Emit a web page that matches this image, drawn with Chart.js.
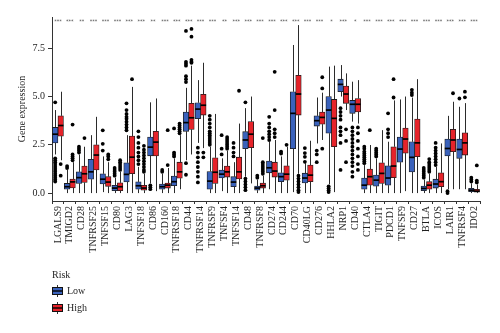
<!DOCTYPE html>
<html>
<head>
<meta charset="utf-8">
<script src="https://cdn.jsdelivr.net/npm/chart.js@4.4.1/dist/chart.umd.min.js"></script>
<style>
  html, body { margin: 0; background: #fff; }
  #wrap { width: 500px; height: 333px; position: relative; }
</style>
</head>
<body>
<div id="wrap"><canvas id="chart"></canvas></div>
<script>
const genes = ['LGALS9', 'TMIGD2', 'CD28', 'TNFRSF25', 'TNFSF15', 'CD80', 'LAG3', 'TNFSF18', 'CD86',
  'CD160', 'TNFRSF18', 'CD44', 'TNFRSF14', 'TNFRSF9', 'TNFSF4', 'TNFSF14', 'CD48', 'TNFRSF8',
  'CD274', 'CD244', 'CD70', 'CD40LG', 'CD276', 'HHLA2', 'NRP1', 'CD40', 'CTLA4', 'TIGIT',
  'PDCD1', 'TNFSF9', 'CD27', 'BTLA', 'ICOS', 'LAIR1', 'TNFRSF4', 'IDO2'];

const stars = ['***', '***', '**', '***', '***', '***', '***', '***', '**', '***', '***', '***',
  '***', '***', '**', '***', '***', '***', '***', '***', '***', '***', '***', '*', '***', '*',
  '***', '***', '***', '***', '***', '***', '***', '***', '***', '***'];

// [lower whisker, Q1, median, Q3, upper whisker]
const lowBox = [
  [2.0, 2.6, 3.05, 3.4, 4.3], [0.0, 0.2, 0.33, 0.5, 1.2], [0.0, 0.5, 0.8, 1.1, 2.0],
  [0.0, 0.72, 1.1, 1.75, 3.0], [0.05, 0.47, 0.72, 1.0, 1.9], [0.0, 0.12, 0.26, 0.4, 0.8],
  [0.0, 0.58, 0.97, 1.57, 3.0], [0.0, 0.2, 0.38, 0.58, 1.36], [0.5, 1.93, 2.38, 2.9, 4.7],
  [0.0, 0.2, 0.33, 0.47, 1.0], [0.0, 0.38, 0.59, 0.88, 1.8], [1.7, 3.2, 3.65, 4.2, 5.45],
  [2.6, 3.85, 4.35, 4.68, 5.85], [0.0, 0.2, 0.62, 1.12, 2.4], [0.1, 0.78, 0.98, 1.19, 1.8],
  [0.0, 0.33, 0.57, 0.85, 1.6], [0.85, 2.3, 2.75, 3.18, 4.4], [0.0, 0.15, 0.26, 0.36, 0.7],
  [0.2, 1.05, 1.31, 1.66, 2.65], [0.0, 0.59, 0.85, 1.05, 1.9], [0.05, 2.3, 4.13, 5.25, 7.67],
  [0.0, 0.52, 0.78, 1.03, 1.55], [2.57, 3.47, 3.75, 4.0, 4.95], [0.45, 3.1, 4.3, 5.0, 6.55],
  [5.0, 5.25, 5.63, 5.9, 6.63], [3.7, 4.13, 4.6, 4.8, 5.77], [0.0, 0.2, 0.41, 0.78, 1.45],
  [0.0, 0.36, 0.67, 0.93, 1.8], [0.0, 0.41, 0.78, 1.41, 2.66], [0.0, 1.6, 2.28, 2.9, 4.85],
  [0.0, 1.1, 1.85, 2.66, 4.95], [0.0, 0.12, 0.24, 0.36, 0.7], [0.0, 0.26, 0.47, 0.72, 1.35],
  [0.2, 1.92, 2.31, 2.8, 4.0], [0.2, 1.8, 2.26, 2.8, 4.47], [0.0, 0.07, 0.15, 0.25, 0.5]
];
const highBox = [
  [1.7, 2.95, 3.5, 4.0, 5.25], [0.0, 0.27, 0.58, 0.73, 1.6], [0.0, 0.55, 1.0, 1.4, 2.4],
  [0.0, 1.2, 1.97, 2.5, 3.95], [0.0, 0.35, 0.57, 0.85, 1.6], [0.0, 0.12, 0.33, 0.53, 1.1],
  [0.0, 1.0, 1.86, 2.95, 5.5], [0.0, 0.15, 0.26, 0.4, 1.0], [0.1, 1.92, 2.64, 3.2, 4.9],
  [0.0, 0.26, 0.41, 0.52, 1.3], [0.2, 0.77, 1.1, 1.6, 3.0], [2.0, 3.3, 3.9, 4.65, 6.6],
  [2.33, 4.04, 4.55, 5.12, 6.75], [0.0, 0.5, 1.08, 1.83, 4.1], [0.0, 0.83, 1.1, 1.4, 2.2],
  [0.0, 0.73, 1.1, 1.86, 3.6], [0.5, 2.35, 3.05, 3.7, 5.0], [0.0, 0.26, 0.38, 0.52, 0.9],
  [0.0, 0.83, 1.14, 1.6, 2.75], [0.0, 0.67, 0.98, 1.41, 2.4], [1.0, 4.04, 5.13, 6.1, 8.7],
  [0.0, 0.59, 0.93, 1.45, 2.71], [2.75, 3.57, 3.92, 4.2, 5.2], [0.05, 2.4, 3.87, 4.85, 6.6],
  [4.3, 4.65, 5.13, 5.54, 6.2], [3.6, 4.2, 4.6, 4.9, 5.85], [0.0, 0.41, 0.85, 1.24, 2.49],
  [0.0, 0.5, 1.02, 1.57, 3.26], [0.0, 0.8, 1.4, 2.4, 4.8], [0.1, 2.07, 2.8, 3.37, 5.0],
  [0.0, 1.88, 2.6, 3.83, 5.9], [0.0, 0.2, 0.41, 0.59, 1.0], [0.0, 0.33, 0.59, 1.05, 2.57],
  [0.2, 2.14, 2.75, 3.3, 4.73], [0.2, 1.97, 2.6, 3.12, 4.66], [0.0, 0.05, 0.1, 0.2, 0.45]
];

const lowOut = [
  [4.7, 1.8, 1.7, 1.6, 1.5, 1.4, 1.3, 1.2, 1.1, 1.0, 0.9, 0.8, 0.7, 0.6], [1.3, 1.4], [2.1, 2.2, 2.3, 2.4],
  [], [2.2, 2.55, 3.25], [0.9, 1.0, 1.1, 1.2, 1.3],
  [3.25, 3.4, 3.55, 3.7, 3.85, 3.95, 4.1, 4.3, 4.65], [1.5, 1.7, 1.9, 2.1, 2.35, 2.6, 2.9, 3.2], [0.4, 0.3, 0.2],
  [1.1, 1.2], [1.9, 2.0, 2.1, 3.35], [8.4, 6.8, 6.7, 6.6, 6.05, 5.9, 5.75, 1.55, 0.95],
  [2.35, 2.1, 1.85, 1.6, 1.35, 1.1, 0.85, 0.55], [2.5, 2.6, 2.7, 2.8, 2.9, 3.0, 3.1, 3.2, 3.4, 3.6, 3.8, 4.0], [2.0, 2.3, 3.0],
  [1.9, 2.1, 2.35, 2.6], [4.7, 0.75, 0.6, 0.45, 0.3, 0.15], [0.8, 0.9],
  [2.75, 2.9, 3.05, 3.2, 3.4, 3.6, 3.95], [2.05, 2.15], [],
  [1.62, 1.88, 2.07, 2.33], [2.2, 2.0, 1.6], [0.35, 0.25, 0.15, 0.05],
  [4.4, 4.2, 4.0, 3.8, 3.4, 3.2, 3.0, 2.6, 1.2], [3.4, 3.2, 3.0, 2.8, 2.6, 2.4, 2.2, 2.0, 1.8, 1.6, 1.4, 1.1, 0.85],
  [1.55, 1.65, 1.75, 1.85, 1.95, 2.05, 2.15, 2.3, 2.4],
  [1.9, 2.0, 2.1, 2.2, 2.3], [2.9, 3.1, 3.3, 4.13], [],
  [5.08, 5.2, 5.35], [0.8, 0.9, 1.0, 1.1, 1.2, 1.3], [1.45, 1.6, 1.75, 1.9, 2.05, 2.2, 2.35, 2.6],
  [0.1, 0.0], [4.9], [0.6, 0.7, 0.8]
];
const highOut = [
  [1.5, 0.9], [1.7, 1.8, 1.9, 2.0, 3.55], [2.85],
  [], [1.75, 1.9, 2.0], [1.2, 1.3, 1.4, 1.5, 1.6, 1.7],
  [5.9], [1.1, 1.2, 1.35, 1.5, 1.65, 1.8, 1.95, 2.1, 2.25, 2.45], [],
  [1.45, 3.26], [3.1, 3.2, 3.3, 3.4, 3.5, 3.6], [8.5, 8.1, 6.9, 6.8, 6.75],
  [2.1, 1.85], [], [2.3, 2.4, 2.5, 2.6, 2.7, 2.8, 2.9],
  [5.3], [], [1.0, 1.1, 1.2, 1.3, 1.4, 1.5, 1.6, 2.85],
  [2.9, 3.1, 3.3, 4.3, 6.28], [2.5], [0.9, 0.75, 0.6, 0.45, 0.3, 0.15, 0.05],
  [], [5.42, 6.0, 2.3], [],
  [3.3, 2.7, 1.6], [3.4, 3.1, 2.7, 2.3, 1.9, 1.5, 1.2], [3.26],
  [], [4.95, 5.9], [],
  [], [1.1, 1.2, 1.3, 1.4, 1.5, 1.6, 1.76], [],
  [5.17], [4.96, 5.25], [0.55, 0.65, 1.43]
];

const BLUE = '#3a62bc';
const RED = '#e6232a';
const INK = '#1f1f1f';
const SERIF = '"Liberation Serif", "DejaVu Serif", serif';
const BOX_W = 5.5;

function outlierPoints(groups, side) {
  const pts = [];
  groups.forEach((vals, i) => vals.forEach(v => pts.push({ i, side, y: v })));
  return pts;
}

// outliers sit at the centre of their box: category value plus half a box width
function outlierX(chart, p) {
  const x = chart.scales.x;
  return x.getPixelForValue(p.i) + p.side * BOX_W / 2;
}

// whiskers under the boxes, medians and significance marks on top
const boxParts = {
  id: 'boxParts',
  beforeDatasetsDraw(chart) {
    const { ctx } = chart;
    const y = chart.scales.y;
    ctx.save();
    ctx.strokeStyle = '#2b2b2b';
    ctx.lineWidth = 1;
    chart.data.datasets.forEach((ds, d) => {
      if (!ds.stats) return;
      chart.getDatasetMeta(d).data.forEach((bar, i) => {
        const s = ds.stats[i];
        const x = Math.round(bar.x) + 0.5;
        ctx.beginPath();
        ctx.moveTo(x, y.getPixelForValue(s[0]));
        ctx.lineTo(x, y.getPixelForValue(s[1]));
        ctx.moveTo(x, y.getPixelForValue(s[3]));
        ctx.lineTo(x, y.getPixelForValue(s[4]));
        ctx.stroke();
      });
    });
    ctx.restore();
  },
  afterDatasetsDraw(chart) {
    const { ctx } = chart;
    const y = chart.scales.y;
    const x = chart.scales.x;
    ctx.save();
    ctx.strokeStyle = '#000';
    ctx.lineWidth = 1.7;
    chart.data.datasets.forEach((ds, d) => {
      if (!ds.stats) return;
      chart.getDatasetMeta(d).data.forEach((bar, i) => {
        const ym = y.getPixelForValue(ds.stats[i][2]);
        ctx.beginPath();
        ctx.moveTo(bar.x - bar.width / 2, ym);
        ctx.lineTo(bar.x + bar.width / 2, ym);
        ctx.stroke();
      });
    });
    ctx.fillStyle = '#000';
    chart.data.datasets.forEach(ds => {
      if (!ds.outliers) return;
      ds.outliers.forEach(p => {
        ctx.beginPath();
        ctx.arc(outlierX(chart, p), y.getPixelForValue(p.y), 1.9, 0, Math.PI * 2);
        ctx.fill();
      });
    });
    ctx.fillStyle = '#444';
    ctx.font = '5px "DejaVu Sans", sans-serif';
    ctx.textAlign = 'center';
    ctx.textBaseline = 'middle';
    stars.forEach((s, i) => {
      ctx.fillText(s, x.getPixelForValue(i), y.getPixelForValue(8.9));
    });
    ctx.restore();
  },
  afterDraw(chart) {
    const { ctx } = chart;
    ctx.save();
    ctx.fillStyle = INK;
    ctx.font = '10px ' + SERIF;
    ctx.textBaseline = 'middle';
    ctx.fillText('Risk', 52, 275);
    [['Low', BLUE, 291], ['High', RED, 308]].forEach(([name, color, cy]) => {
      ctx.strokeStyle = '#333';
      ctx.lineWidth = 1;
      ctx.beginPath();
      ctx.moveTo(57.5, cy - 6);
      ctx.lineTo(57.5, cy + 6);
      ctx.stroke();
      ctx.fillStyle = color;
      ctx.fillRect(52.5, cy - 3.5, 10, 7);
      ctx.strokeStyle = '#111';
      ctx.lineWidth = 1;
      ctx.strokeRect(52.5, cy - 3.5, 10, 7);
      ctx.lineWidth = 1.4;
      ctx.strokeStyle = '#000';
      ctx.beginPath();
      ctx.moveTo(52.5, cy);
      ctx.lineTo(62.5, cy);
      ctx.stroke();
      ctx.fillStyle = INK;
      ctx.fillText(name, 67, cy);
    });
    ctx.restore();
  }
};

new Chart(document.getElementById('chart'), {
  type: 'bar',
  data: {
    labels: genes,
    datasets: [
      {
        label: 'Low', stats: lowBox, outliers: outlierPoints(lowOut, -1),
        data: lowBox.map(s => [s[1], s[3]]),
        backgroundColor: BLUE, borderColor: '#1a1a1a', borderWidth: 0.8, borderSkipped: false,
        barThickness: BOX_W
      },
      {
        label: 'High', stats: highBox, outliers: outlierPoints(highOut, 1),
        data: highBox.map(s => [s[1], s[3]]),
        backgroundColor: RED, borderColor: '#1a1a1a', borderWidth: 0.8, borderSkipped: false,
        barThickness: BOX_W
      }
    ]
  },
  options: {
    responsive: true,
    maintainAspectRatio: false,
    animation: false,
    devicePixelRatio: 1,
    layout: { padding: { top: 17, right: 20, bottom: 0, left: 0 } },
    plugins: { legend: { display: false }, tooltip: { enabled: false } },
    scales: {
      x: {
        offset: true,
        grid: { drawOnChartArea: false, drawTicks: true, tickLength: 3, color: '#333' },
        border: { display: true, color: '#333', width: 1 },
        ticks: {
          autoSkip: false, maxRotation: 90, minRotation: 90, padding: 2,
          color: INK, font: { family: SERIF, size: 10 }
        },
        afterFit(scale) { scale.height = 132; }
      },
      y: {
        min: -0.41, max: 9.12,
        grid: { drawOnChartArea: false, drawTicks: true, tickLength: 4, color: '#333' },
        border: { display: true, color: '#333', width: 1 },
        ticks: {
          stepSize: 2.5, includeBounds: false, padding: 3, color: INK,
          font: { family: SERIF, size: 10 },
          callback: v => v.toFixed(1)
        },
        title: {
          display: true, text: 'Gene expression', color: INK,
          font: { family: SERIF, size: 10 }, padding: { top: 16, bottom: 0 }
        },
        afterFit(scale) { scale.width = 52; }
      }
    }
  },
  plugins: [boxParts]
});
</script>
</body>
</html>
